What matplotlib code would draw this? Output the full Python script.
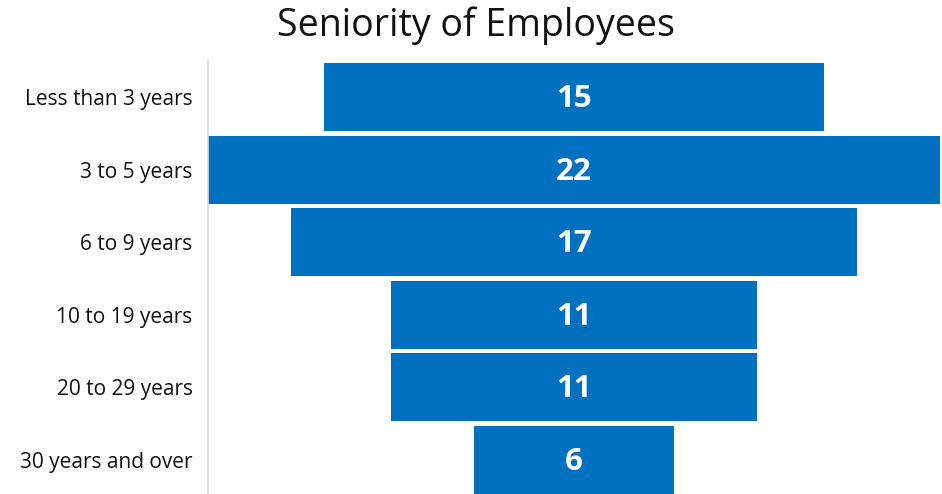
import matplotlib.pyplot as plt

# data
categories = ["Less than 3 years", "3 to 5 years", "6 to 9 years",
              "10 to 19 years", "20 to 29 years", "30 years and over"]
counts = [15, 22, 17, 11, 11, 6]

bar_color = "#0070C0"

plt.rcParams['font.family'] = ['Open Sans', 'DejaVu Sans']

fig = plt.figure(figsize=(9.42, 4.94), dpi=100)
ax = fig.add_axes([208 / 942, 0, 732 / 942, 434 / 494])

ypos = list(range(len(categories)))
# centred funnel: each bar starts at -value/2
lefts = [-c / 2 for c in counts]
bars = ax.barh(ypos, counts, left=lefts, height=0.935, color=bar_color)

for y, c in zip(ypos, counts):
    ax.text(0, y + 0.03, str(c), ha='center', va='center', color='white',
            fontsize=22.5, fontweight='bold')

ax.set_xlim(-11, 11)
ax.set_ylim(5.47, -0.51)
ax.set_yticks(ypos)
ax.set_yticklabels(categories, fontsize=15, color='#111111')
ax.tick_params(axis='y', length=0, pad=11)
ax.set_xticks([])

for side in ['top', 'right', 'bottom']:
    ax.spines[side].set_visible(False)
ax.spines['left'].set_color('#d9d9d9')
ax.spines['left'].set_linewidth(1.2)

fig.text(476 / 942, 1 - 26 / 494, "Seniority of Employees", ha='center',
         va='center', fontsize=27, color='#111111')

fig.savefig("out.png", dpi=100)
